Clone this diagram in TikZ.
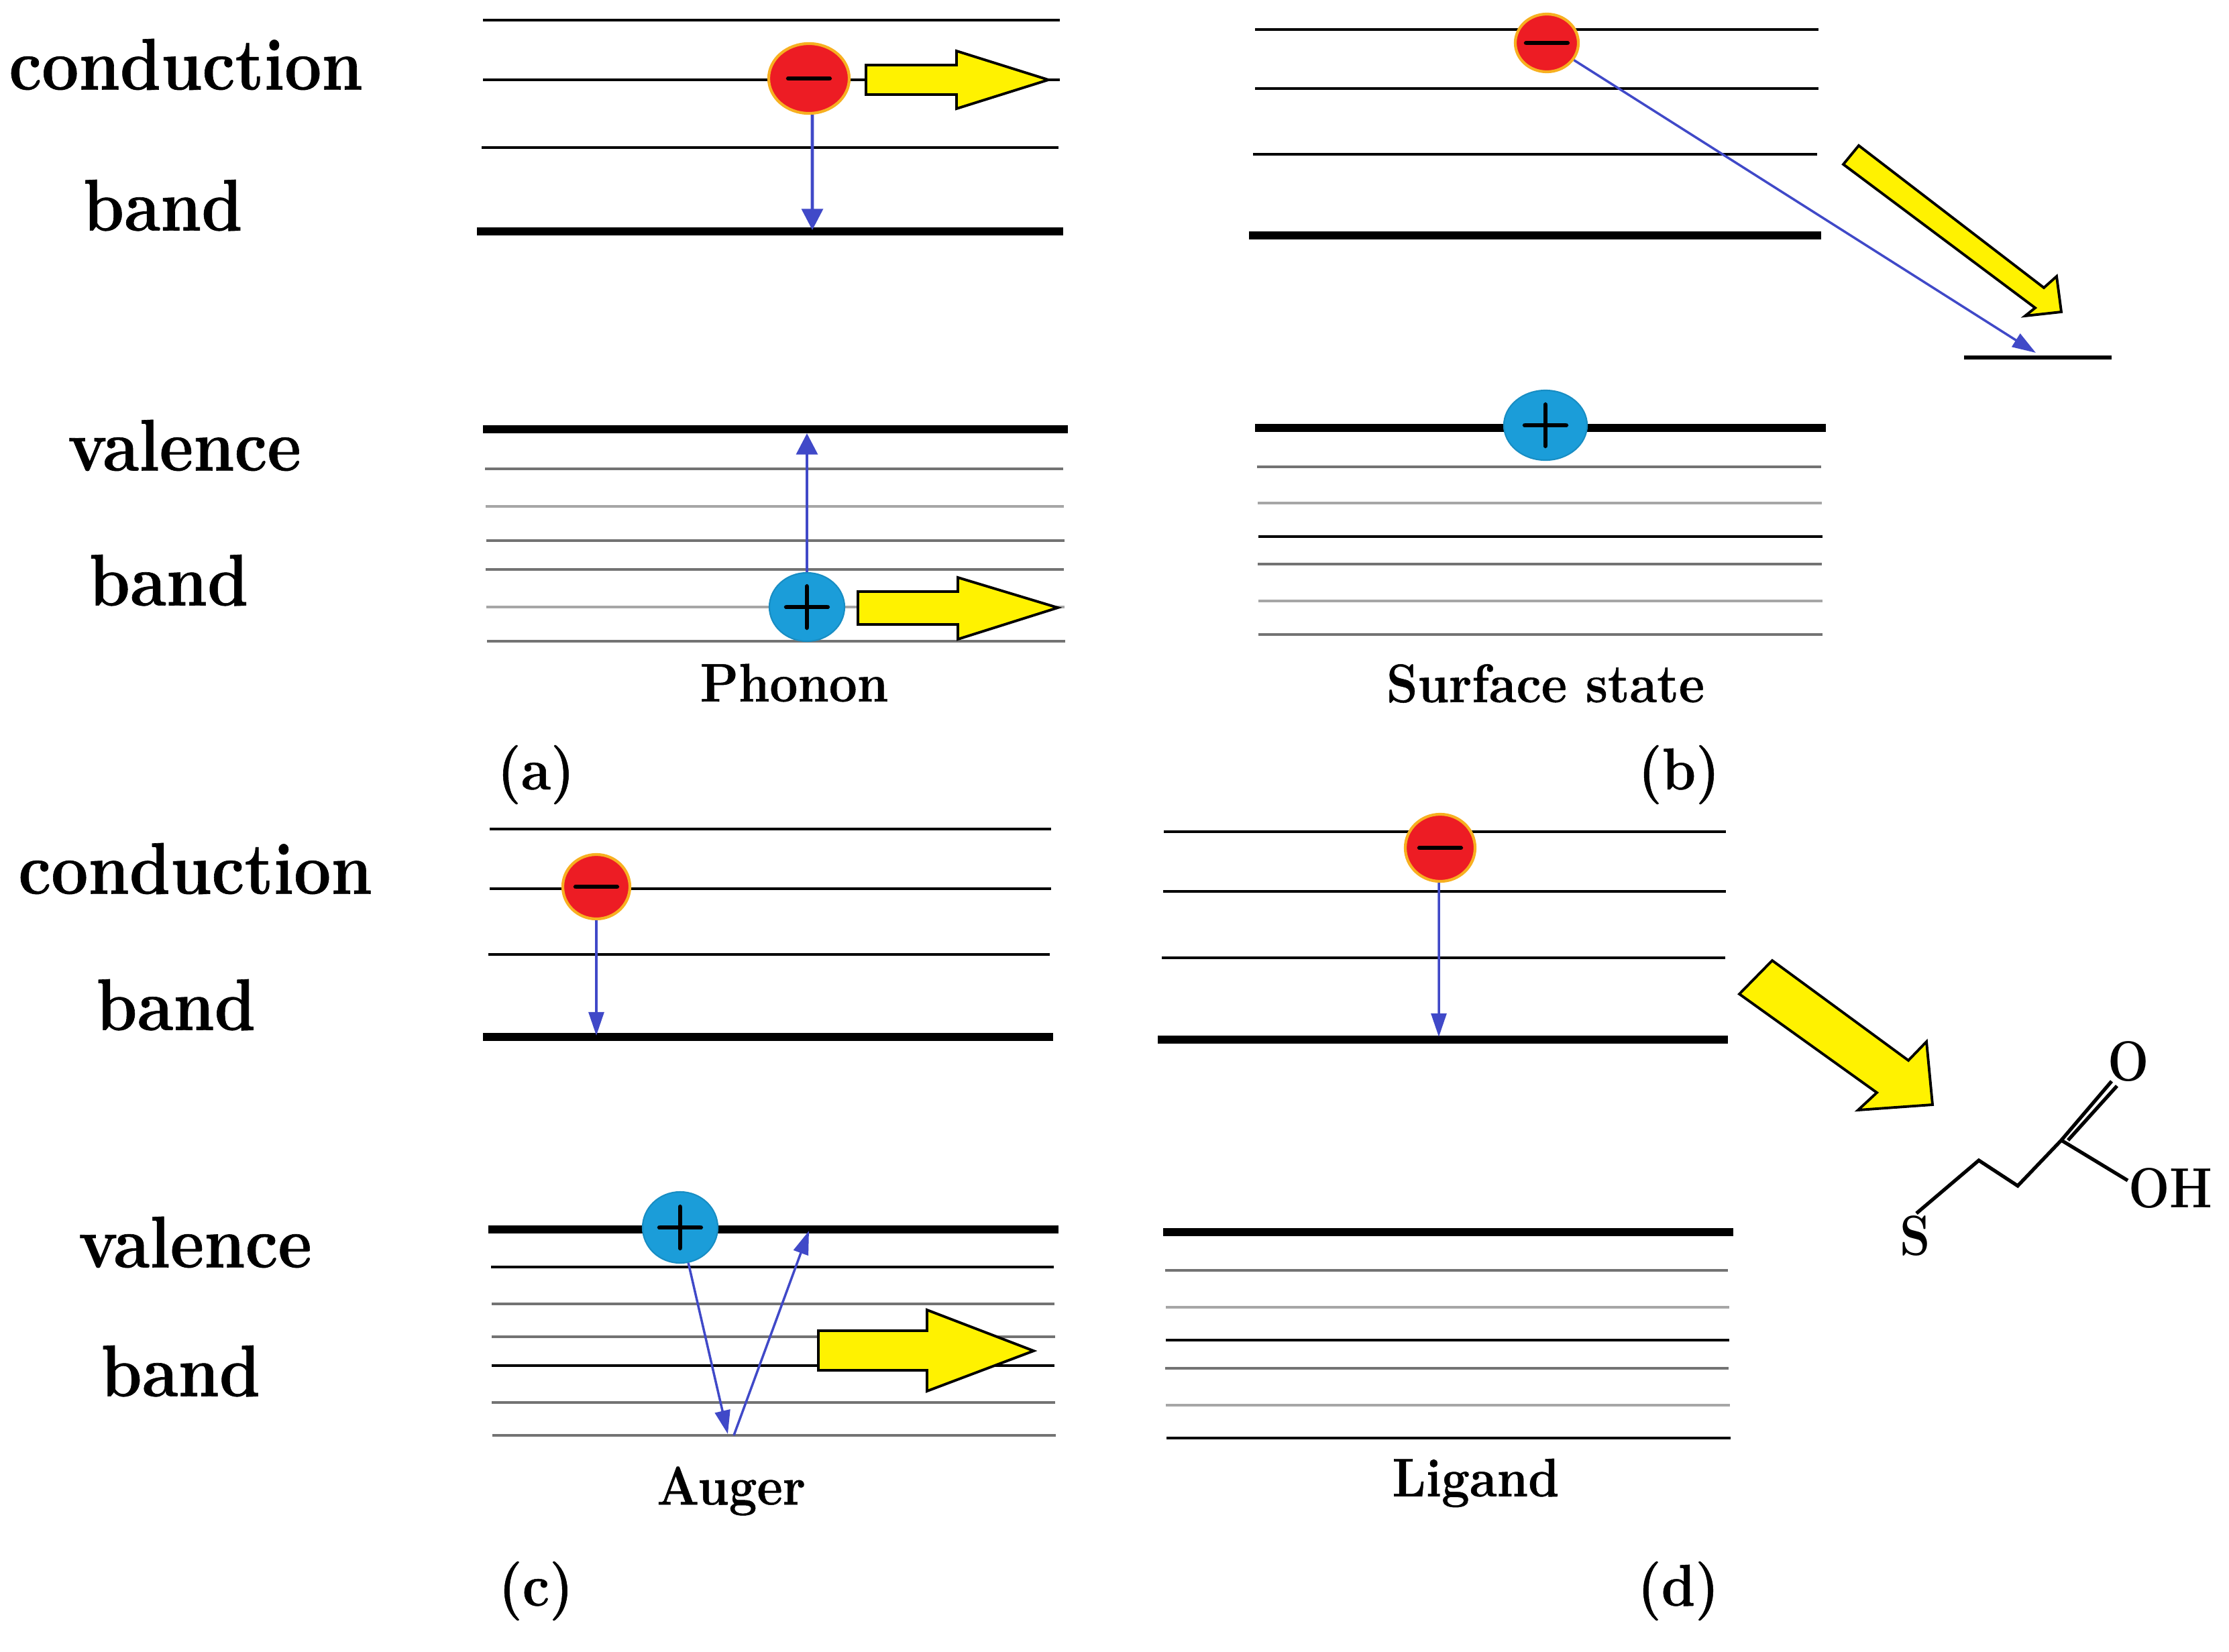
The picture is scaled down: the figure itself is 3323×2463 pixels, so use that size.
\documentclass[tikz,border=0pt]{standalone}
\usepackage{fontspec}
\usepackage{tikz}
\usetikzlibrary{shapes, positioning, arrows.meta}

\newfontfamily\signfont[FakeBold=2]{Latin Modern Roman}
\newfontfamily\labelfont[BoldFeatures={FakeBold=0.6}]{Latin Modern Roman}
\newcommand{\chargesign}[1]{\makebox[0pt]{\raisebox{-7.5pt}[0pt][0pt]{#1}}}

\definecolor{holeblue}{RGB}{27,157,217}
\definecolor{elecred}{RGB}{237,28,36}
\definecolor{elecrim}{RGB}{247,176,32}
\definecolor{jumpblue}{RGB}{64,73,200}
\definecolor{fatyellow}{RGB}{255,242,0}

\begin{document}
\begin{tikzpicture}[x=0.01cm, y=-0.01cm,
level/.style={draw=black, line width=1pt},
levelgrey/.style={draw=black!55, line width=1pt},
levellight/.style={draw=black!35, line width=1pt},
levelthick/.style={draw=black, line width=3.4pt},
electron/.style={draw=elecrim, fill=elecred, ellipse, line width=1.2pt, inner sep=0pt, font=\fontsize{30}{30}\selectfont\signfont},
hole/.style={draw=black!10!holeblue, fill=holeblue, ellipse, line width=0.6pt, inner sep=0pt, font=\fontsize{30}{30}\selectfont\signfont},
jump/.style={draw=jumpblue, line width=1pt, -{Triangle[length=10pt, width=6.5pt]}},
jumpwide/.style={draw=jumpblue, line width=1.3pt, -{Triangle[length=9pt, width=9pt]}},
fatarrow/.style={draw=black, fill=fatyellow, line width=1.1pt},
bandlabel/.style={font=\fontsize{31}{34}\selectfont\labelfont\bfseries, xscale=0.9, transform shape},
typelabel/.style={font=\fontsize{23}{26}\selectfont\labelfont\bfseries, xscale=0.92, transform shape},
panellabel/.style={font=\fontsize{25}{28}\selectfont\labelfont\bfseries, xscale=0.92, transform shape},
atom/.style={font=\fontsize{24}{26}\selectfont\bfseries, inner sep=0pt, xscale=0.86, transform shape},
bond/.style={draw=black, line width=1.5pt}]

\useasboundingbox (0,0) rectangle (3323,2463);

\node[bandlabel]	(cond1) at (277,96)		{conduction};
\node[bandlabel]	(band1)[below of=cond1, yshift=-1.1cm, xshift=-0.38cm]	{band};
\node[bandlabel]	(val1) at (275,664)		{valence};
\node[bandlabel]	(band2)[below of=val1, yshift=-1.01cm, xshift=-0.26cm]	{band};
\node[bandlabel]	(cond2) at (291,1295)	{conduction};
\node[bandlabel]	(band3)[below of=cond2, yshift=-1.03cm, xshift=-0.32cm]	{band};
\node[bandlabel]	(val2) at (291,1852)	{valence};
\node[bandlabel]	(band4)[below of=val2, yshift=-0.92cm, xshift=-0.24cm]	{band};

\draw[level] (720,30) -- (1580,30);
\draw[level] (720,119) -- (1580,119);
\draw[level] (718,220) -- (1578,220);
\draw[levelthick] (711,345) -- (1585,345);
\draw[levelthick] (720,640) -- (1592,640);
\draw[levelgrey] (723,699) -- (1585,699);
\draw[levellight] (724,755) -- (1586,755);
\draw[levelgrey] (725,806) -- (1587,806);
\draw[levelgrey] (724,849) -- (1586,849);
\draw[levellight] (725,905) -- (1587,905);
\draw[levelgrey] (726,956) -- (1588,956);

\draw[fatarrow] (1291,97) -- (1426,97) -- (1426,76) -- (1563,119) -- (1426,162) -- (1426,141) -- (1291,141) -- cycle;
\draw[fatarrow] (1279,882) -- (1428,882) -- (1428,861) -- (1577,906) -- (1428,953) -- (1428,931) -- (1279,931) -- cycle;

\node[electron, minimum width=1.2cm, minimum height=1.04cm]	(elec1) at (1206,117)	{\chargesign{−}};
\node[hole, minimum width=1.12cm, minimum height=1.02cm]		(hole1) at (1203,905)	{\chargesign{+}};
\coordinate (drop1) at (1211,343);
\coordinate (rise1) at (1203,646);
\draw[jumpwide] ([xshift=0.05cm]elec1.south) -- (drop1);
\draw[jumpwide] (hole1) -- (rise1);

\node[typelabel]	(phonon) at (1184,1018)	{Phonon};
\node[panellabel]	(pa) at (799,1155)		{(a)};

\draw[level] (1871,44) -- (2711,44);
\draw[level] (1871,132) -- (2711,132);
\draw[level] (1868,230) -- (2709,230);
\draw[levelthick] (1862,351) -- (2715,351);
\draw[levelthick] (1871,638) -- (2722,638);
\draw[levelgrey] (1874,696) -- (2715,696);
\draw[levellight] (1875,750) -- (2716,750);
\draw[level] (1876,800) -- (2717,800);
\draw[levelgrey] (1875,841) -- (2716,841);
\draw[levellight] (1876,896) -- (2717,896);
\draw[levelgrey] (1876,946) -- (2717,946);
\draw[level, line width=1.6pt] (2928,533) -- (3148,533);

\draw[fatarrow] (2771,217) -- (3047,429) -- (3066,412) -- (3073,465) -- (3019,471) -- (3034,459) -- (2748,245) -- cycle;

\node[electron, minimum width=0.94cm, minimum height=0.86cm]	(elec2) at (2306,64)	{\chargesign{−}};
\node[hole, minimum width=1.24cm, minimum height=1.04cm]		(hole2) at (2304,634)	{\chargesign{+}};
\coordinate (trap) at (3035,526);
\draw[jump] (elec2) -- (trap);

\node[typelabel]	(surface) at (2304,1019)	{Surface state};
\node[panellabel]	(pb) at (2503,1155)		{(b)};

\draw[level] (730,1236) -- (1567,1236);
\draw[level] (730,1325) -- (1567,1325);
\draw[level] (728,1423) -- (1565,1423);
\draw[levelthick] (720,1546) -- (1570,1546);
\draw[levelthick] (728,1833) -- (1578,1833);
\draw[level] (732,1889) -- (1571,1889);
\draw[levelgrey] (733,1944) -- (1572,1944);
\draw[levelgrey] (733,1993) -- (1573,1993);
\draw[level] (733,2036) -- (1572,2036);
\draw[levelgrey] (733,2091) -- (1573,2091);
\draw[levelgrey] (734,2140) -- (1574,2140);

\draw[fatarrow] (1220,1984) -- (1382,1984) -- (1382,1953) -- (1541,2014) -- (1382,2074) -- (1382,2043) -- (1220,2043) -- cycle;

\node[electron, minimum width=1cm, minimum height=0.96cm]	(elec3) at (889,1322)	{\chargesign{−}};
\node[hole, minimum width=1.12cm, minimum height=1.06cm]		(hole3) at (1014,1830)	{\chargesign{+}};
\coordinate (drop3) at (889,1544);
\coordinate (bounce) at (1085,2138);
\coordinate (bounce2) at (1094,2140);
\coordinate (rise3) at (1206,1835);
\draw[jump] (elec3) -- (drop3);
\draw[jump] (hole3) -- (bounce);
\draw[jump] (bounce2) -- (rise3);

\node[typelabel]	(auger) at (1090,2223)	{Auger};
\node[panellabel]	(pc) at (799,2372)		{(c)};

\draw[level] (1735,1240) -- (2573,1240);
\draw[level] (1734,1329) -- (2573,1329);
\draw[level] (1732,1428) -- (2572,1428);
\draw[levelthick] (1726,1550) -- (2576,1550);
\draw[levelthick] (1734,1837) -- (2584,1837);
\draw[levelgrey] (1737,1894) -- (2576,1894);
\draw[levellight] (1738,1949) -- (2578,1949);
\draw[level] (1738,1998) -- (2578,1998);
\draw[levelgrey] (1737,2040) -- (2577,2040);
\draw[levellight] (1738,2095) -- (2579,2095);
\draw[level] (1739,2144) -- (2580,2144);

\node[electron, minimum width=1.04cm, minimum height=1cm]	(elec4) at (2147,1264)	{\chargesign{−}};
\coordinate (drop4) at (2145,1546);
\draw[jump] ([xshift=-0.02cm]elec4.south) -- (drop4);

\node[typelabel]	(ligand) at (2200,2211)	{Ligand};
\node[panellabel]	(pd) at (2502,2372)		{(d)};

\draw[fatarrow] (2642,1432) -- (2845,1581) -- (2872,1553) -- (2881,1647) -- (2770,1655) -- (2798,1629) -- (2593,1482) -- cycle;

\node[atom]	(sulfur) at (2855,1843)	{S};
\node[atom]	(oxygen) at (3173,1583)	{O};
\node[atom]	(hydroxyl) at (3236,1772)	{OH};
\coordinate (ch1) at (2950,1730);
\coordinate (ch2) at (3008,1768);
\coordinate (co) at (3073,1700);
\coordinate (co2) at (3083,1700);
\coordinate (dbl1) at (3148,1612);
\coordinate (dbl2) at (3156,1619);
\coordinate (oh) at (3172,1760);
\coordinate (send) at (2857,1809);
\draw[bond] (send) -- (ch1) -- (ch2) -- (co) -- (oh);
\draw[bond] (co) -- (dbl1);
\draw[bond] (co2) -- (dbl2);

\end{tikzpicture}
\end{document}
